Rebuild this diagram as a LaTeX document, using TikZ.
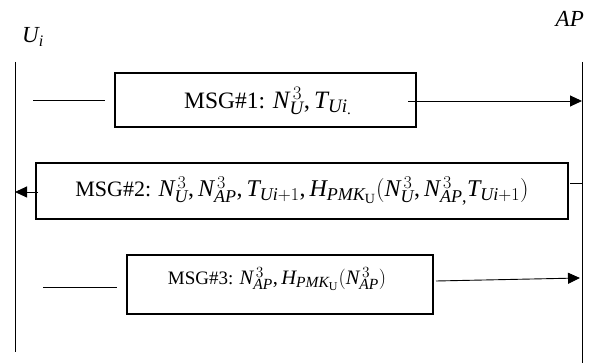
\RequirePackage{fix-cm}
\documentclass[tikz,border=0pt]{standalone}
\usepackage{fontspec}
\setmainfont{Liberation Serif}
% math letters and digits in the serif text face
\DeclareSymbolFont{letters}{TU}{\rmdefault}{m}{it}
\DeclareSymbolFont{operators}{TU}{\rmdefault}{m}{n}
\mathcode`,="602C
\mathcode`.="002E
% math set a little larger than the surrounding text
\DeclareMathSizes{23.5}{25}{19}{15}
\DeclareMathSizes{22}{24}{18}{14}
\DeclareMathSizes{19}{20.5}{15.5}{12}
\newcommand\Nc[1]{N_{#1}^{\mkern3mu 3}}
\usetikzlibrary{arrows.meta}
\tikzset{
  lifeline/.style={line width=0.9pt},
  msgbox/.style={draw, line width=1.4pt, rectangle, inner sep=0pt},
  msgtext/.style={inner sep=0pt},
  msgline/.style={line width=0.9pt},
  msgarrow/.style={line width=0.9pt, -{Triangle[length=12pt,width=11pt]}},
  actor/.style={inner sep=0pt, font=\fontsize{23}{27}\selectfont},
}
\begin{document}
\begin{tikzpicture}[x=1pt,y=-1pt]
  \useasboundingbox (0,0) rectangle (592,363);

  % participants
  \node[actor, anchor=base west] (ui) at (22,43) {$U_i$};
  \node[actor, anchor=base east] (ap) at (584,27) {\itshape AP};
  \coordinate (ltop) at (15,62);
  \coordinate (lbot) at (15,352);
  \coordinate (rtop) at (582,62);
  \coordinate (rbot) at (582,363);
  \draw[lifeline] (ltop) -- (lbot);
  \draw[lifeline] (rtop) -- (rbot);

  % message 1
  \node[msgbox, minimum width=301pt, minimum height=54pt] (m1) at (265.5,100) {};
  \node[msgtext, font=\fontsize{23.5}{28}\selectfont] (t1) at (268,101)
    {MSG\#1: $\Nc{U}, T_{Ui_{.}}$};
  \coordinate (a1) at (33,100);
  \coordinate (b1) at (105,100);
  \coordinate (c1) at (408,101);
  \coordinate (d1) at (582,101);
  \draw[msgline] (a1) -- (b1);
  \draw[msgarrow] (c1) -- (d1);

  % message 2
  \node[msgbox, minimum width=532pt, minimum height=56pt] (m2) at (302,191) {};
  \node[msgtext, font=\fontsize{22}{26}\selectfont] (t2) at (302,191)
    {MSG\#2: $\Nc{U}, \Nc{AP}, T_{Ui+1}, H_{PMK_{\mathrm{U}}}(\Nc{U}, \Nc{AP,} T_{Ui+1})$};
  \coordinate (a2) at (38,192);
  \coordinate (b2) at (15,192);
  \coordinate (c2) at (570,183);
  \coordinate (d2) at (582,183);
  \draw[msgarrow] (a2) -- (b2);
  \draw[msgline] (c2) -- (d2);

  % message 3
  \node[msgbox, minimum width=306pt, minimum height=59pt] (m3) at (280,284.5) {};
  \node[msgtext, font=\fontsize{19}{23}\selectfont] (t3) at (277,279)
    {MSG\#3: $\Nc{AP}, H_{PMK_{\mathrm{U}}}(\Nc{AP})$};
  \coordinate (a3) at (43,287);
  \coordinate (b3) at (117,287);
  \coordinate (c3) at (436,281);
  \coordinate (d3) at (580,278);
  \draw[msgline] (a3) -- (b3);
  \draw[msgarrow] (c3) -- (d3);
\end{tikzpicture}
\end{document}
